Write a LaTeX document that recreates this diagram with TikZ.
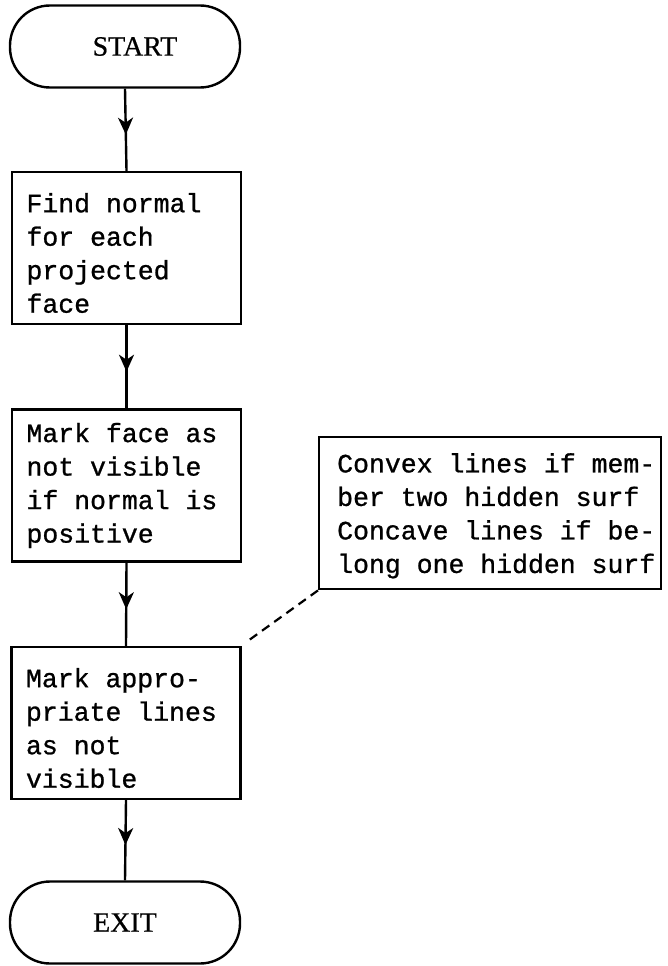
\documentclass[tikz,border=0pt]{standalone}
\usepackage{fontspec}
\setmainfont{Liberation Serif}[FakeBold=0.6]
\newfontfamily\typer{Liberation Mono}[FakeBold=0.9]
\usetikzlibrary{arrows.meta,decorations.markings}
\tikzset{
  every node/.style={font=\typer\fontsize{26.5}{33.5}\selectfont},
  terminal/.style={draw, line width=2.4pt, rounded corners=40pt,
    minimum width=230pt, minimum height=82pt, inner sep=0pt,
    font=\rmfamily\fontsize{28}{30}\selectfont},
  stepbox/.style={draw, line width=2.4pt, minimum width=229pt,
    minimum height=152pt, inner sep=0pt},
  steptext/.style={text width=200pt, align=flush left, inner sep=0pt},
  flow/.style={line width=2.4pt, postaction={decorate},
    decoration={markings, mark=at position 0.56 with
      {\arrow{Stealth[length=17pt, width=15pt, inset=5pt]}}}},
  note/.style={line width=2.2pt, dash pattern=on 9pt off 6pt}
}
\begin{document}
\begin{tikzpicture}[x=1pt, y=-1pt]
  \useasboundingbox (0,0) rectangle (668,966);

  \node[terminal] (start) at (125,46.5) {\hspace*{20pt}START};
  \node[stepbox] (find) at (126.5,248) {};
  \node[stepbox] (face) at (126.5,485.5) {};
  \node[stepbox] (lines) at (126,723) {};
  \node[terminal] (exit) at (125,922.5) {EXIT};

  \node[steptext] (findtxt) at ([yshift=-5pt]find.center)
    {Find normal\\for each\\projected\\face};
  \node[steptext] (facetxt) at (face.center)
    {Mark face as\\not visible\\if normal is\\positive};
  \node[steptext] (linestxt) at ([yshift=-5pt]lines.center)
    {Mark appro-\\priate lines\\as not\\visible};

  \draw[flow] (start.south) -- (find.north);
  \draw[flow] (find.south) -- (face.north);
  \draw[flow] (face.south) -- (lines.north);
  \draw[flow] (lines.south) -- (exit.north);

  % comment box: text runs into the right border
  \begin{scope}
    \clip (318,436) rectangle (661,588);
    \node[anchor=north west, align=left, inner sep=0pt] (cmt) at (337,453)
      {Convex lines if mem-\\ber two hidden surf\\Concave lines if be-\\long one hidden surf};
  \end{scope}
  \node[draw, line width=2.4pt, anchor=north west, minimum width=342pt,
        minimum height=152pt, inner sep=0pt] (notebox) at (318,436) {};

  \coordinate (tie) at (245,643);
  \draw[note] (notebox.south west) -- (tie);
\end{tikzpicture}
\end{document}
